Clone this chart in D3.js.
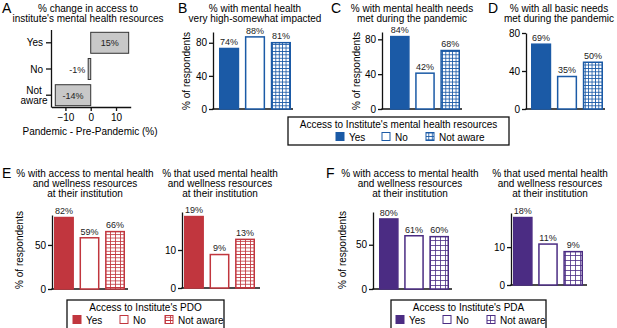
<!DOCTYPE html>
<html>
<head>
<meta charset="utf-8">
<script src="https://cdn.jsdelivr.net/npm/d3@7"></script>
<style>
  body { margin: 0; background: #fff; }
  svg { font-family: "Liberation Sans", Arial, sans-serif; }
</style>
</head>
<body>
<svg id="fig" width="617" height="328"></svg>
<script>
// data
var groups = ["Yes", "No", "Not aware"]
var changeA = [15, -1, -14]
var impactedB = [74, 88, 81]
var needsMetC = [84, 42, 68]
var basicMetD = [69, 35, 50]
var pdoAccess = [82, 59, 66]
var pdoUsed = [19, 9, 13]
var pdaAccess = [80, 61, 60]
var pdaUsed = [18, 11, 9]
var xTicksA = [-10, 0, 10]

var blue = "#1b5aa6", red = "#c1363e", purple = "#4b2c83"

var svg = d3.select("#fig")
var defs = svg.append("defs")

function gridPattern(id, color, w, h) {
    var p = defs.append("pattern").attr("id", id)
        .attr("patternUnits", "userSpaceOnUse").attr("width", w).attr("height", h)
    p.append("rect").attr("width", w).attr("height", h).attr("fill", "#fff")
    p.append("path").attr("d", "M0,0.4H" + w + "M0.4,0V" + h)
        .attr("stroke", color).attr("stroke-width", 0.9).attr("fill", "none")
}
gridPattern("gBlue", blue, 3.4, 3.4)
gridPattern("gRed", red, 5, 3.3)
gridPattern("gPurple", purple, 5, 5)

function fillFor(i, color, pat) {
    if (i == 0) return color
    else if (i == 1) return "#fff"
    else return "url(#" + pat + ")"
}

function title(lines, cx, y0) {
    lines.forEach((t, i) => {
        svg.append("text").attr("x", cx).attr("y", y0 + i * 10)
            .attr("text-anchor", "middle").attr("font-size", 10).text(t)
    })
}
function letter(t, x, y) {
    svg.append("text").attr("x", x).attr("y", y).attr("font-size", 14).text(t)
}
function yLabel(x, cy) {
    svg.append("text").attr("transform", "translate(" + x + "," + cy + ") rotate(-90)")
        .attr("text-anchor", "middle").attr("font-size", 10).text("% of respondents")
}

function barPanel(c, values, color, pat) {
    var y = d3.scaleLinear().domain([0, c.yMax]).range([c.y0, c.yTop])
    var x = d3.scaleBand().domain(groups).range([c.x0, c.x1]).paddingInner(0.22)
    var g = svg.append("g")

    var ax = g.append("g").attr("transform", "translate(" + c.axisX + ",0)")
        .call(d3.axisLeft(y).tickValues(c.ticks).tickSize(4).tickSizeOuter(0).tickPadding(2))
    ax.selectAll("text").attr("font-size", 10).attr("font-family", null)
    ax.selectAll("line,path").attr("stroke", "#111").attr("stroke-width", 1.3)

    g.append("line").attr("x1", c.axisX - 0.6).attr("x2", c.axisEnd)
        .attr("y1", y(0)).attr("y2", y(0)).attr("stroke", "#111").attr("stroke-width", 1.5)

    g.selectAll("rect.bar").data(values).enter().append("rect").attr("class", "bar")
        .attr("x", (d, i) => x(groups[i]) + 0.75)
        .attr("width", x.bandwidth() - 1.5)
        .attr("y", d => y(d) + 0.75)
        .attr("height", d => y(0) - y(d) - 0.75)
        .attr("fill", (d, i) => fillFor(i, color, pat))
        .attr("stroke", color).attr("stroke-width", 1.5)

    g.selectAll("text.val").data(values).enter().append("text").attr("class", "val")
        .attr("x", (d, i) => x(groups[i]) + x.bandwidth() / 2)
        .attr("y", d => y(d) - 2.5)
        .attr("text-anchor", "middle").attr("font-size", 9).attr("fill", "#222")
        .text(d => d + "%")
}

function legend(c, color, pat) {
    var g = svg.append("g")
    g.append("rect").attr("x", c.x).attr("y", c.y).attr("width", c.w).attr("height", c.h)
        .attr("fill", "#fff").attr("stroke", "#111").attr("stroke-width", 1.3)
    g.append("text").attr("x", c.x + c.w / 2).attr("y", c.y + 11)
        .attr("text-anchor", "middle").attr("font-size", 10).text(c.title)
    groups.forEach((t, i) => {
        g.append("rect").attr("x", c.items[i]).attr("y", c.y + 15.5).attr("width", 8).attr("height", 8)
            .attr("fill", fillFor(i, color, pat)).attr("stroke", color).attr("stroke-width", 1)
        g.append("text").attr("x", c.items[i] + 13).attr("y", c.y + 23.5)
            .attr("font-size", 10).text(t)
    })
}

// ---- panel A
letter("A", 2, 13)
title(["% change in access to", "institute's mental health resources"], 88, 12)
var xA = d3.scaleLinear().domain([-15.5, 15.8]).range([51.5, 130.7])
var yA = d3.scaleBand().domain(groups).range([31, 107]).paddingInner(0.2).paddingOuter(0.05)
var gA = svg.append("g")
var axA = gA.append("g").attr("transform", "translate(0,107)")
    .call(d3.axisBottom(xA).tickValues(xTicksA).tickSize(4).tickSizeOuter(0).tickPadding(3))
axA.selectAll("text").attr("font-size", 10).attr("font-family", null)
axA.selectAll("line,path").attr("stroke", "#111").attr("stroke-width", 1.3)
gA.append("line").attr("x1", 51.5).attr("x2", 51.5).attr("y1", 30).attr("y2", 107.6)
    .attr("stroke", "#111").attr("stroke-width", 1.3)
groups.forEach(gr => {
    gA.append("line").attr("x1", 46).attr("x2", 51.5)
        .attr("y1", yA(gr) + yA.bandwidth() / 2).attr("y2", yA(gr) + yA.bandwidth() / 2)
        .attr("stroke", "#111").attr("stroke-width", 1.3)
})
gA.append("text").attr("x", 43).attr("y", yA("Yes") + yA.bandwidth() / 2 + 3.5)
    .attr("text-anchor", "end").attr("font-size", 10).text("Yes")
gA.append("text").attr("x", 43).attr("y", yA("No") + yA.bandwidth() / 2 + 3.5)
    .attr("text-anchor", "end").attr("font-size", 10).text("No")
gA.append("text").attr("x", 34).attr("y", yA("Not aware") + yA.bandwidth() / 2 - 1.5)
    .attr("text-anchor", "middle").attr("font-size", 10).text("Not")
gA.append("text").attr("x", 34).attr("y", yA("Not aware") + yA.bandwidth() / 2 + 8.5)
    .attr("text-anchor", "middle").attr("font-size", 10).text("aware")
gA.selectAll("rect.bar").data(changeA).enter().append("rect").attr("class", "bar")
    .attr("x", d => Math.min(xA(d), xA(0)))
    .attr("width", d => Math.abs(xA(d) - xA(0)))
    .attr("y", (d, i) => yA(groups[i]))
    .attr("height", yA.bandwidth())
    .attr("fill", "#c8c8c8").attr("stroke", "#333").attr("stroke-width", 1)
gA.selectAll("text.val").data(changeA).enter().append("text").attr("class", "val")
    .attr("x", d => Math.abs(d) > 3 ? (xA(d) + xA(0)) / 2 : xA(d) - 3)
    .attr("y", (d, i) => yA(groups[i]) + yA.bandwidth() / 2 + 3.5)
    .attr("text-anchor", d => Math.abs(d) > 3 ? "middle" : "end")
    .attr("font-size", 9).attr("fill", "#222")
    .text(d => d + "%")
svg.append("text").attr("x", 90).attr("y", 135).attr("text-anchor", "middle")
    .attr("font-size", 10).text("Pandemic - Pre-Pandemic (%)")

// ---- panels B, C, D
letter("B", 178, 13)
title(["% with mental health", "very high-somewhat impacted"], 255, 12)
yLabel(190, 71)
barPanel({yMax: 93, y0: 109, yTop: 32, ticks: [0, 40, 80], x0: 219, x1: 291, axisX: 213, axisEnd: 293},
    impactedB, blue, "gBlue")

letter("C", 331, 13)
title(["% with mental health needs", "met during the pandemic"], 412, 12)
yLabel(360, 71)
barPanel({yMax: 88.4, y0: 109, yTop: 32, ticks: [0, 40, 80], x0: 390, x1: 460, axisX: 382, axisEnd: 462},
    needsMetC, blue, "gBlue")

letter("D", 488, 13)
title(["% with all basic needs", "met during the pandemic"], 559, 12)
barPanel({yMax: 80, y0: 109, yTop: 33, ticks: [0, 40, 80], x0: 531, x1: 603, axisX: 526, axisEnd: 605},
    basicMetD, blue, "gBlue")

legend({x: 288, y: 117, w: 221, h: 28, title: "Access to Institute's mental health resources",
    items: [336, 382, 426]}, blue, "gBlue")

// ---- panel E (PDO)
letter("E", 2, 178)
title(["% with access to mental health", "and wellness resources", "at their institution"], 85, 177)
yLabel(23, 250)
barPanel({yMax: 84, y0: 289, yTop: 215, ticks: [0, 50], x0: 54, x1: 125, axisX: 52, axisEnd: 128},
    pdoAccess, red, "gRed")
title(["% that used mental health", "and wellness resources", "at their institution"], 220, 177)
barPanel({yMax: 20, y0: 288, yTop: 212, ticks: [0, 10], x0: 184, x1: 255, axisX: 182, axisEnd: 260},
    pdoUsed, red, "gRed")
legend({x: 67, y: 300, w: 157, h: 32, title: "Access to Institute's PDO",
    items: [73, 120, 165]}, red, "gRed")

// ---- panel F (PDA)
letter("F", 326, 178)
title(["% with access to mental health", "and wellness resources", "at their institution"], 410, 177)
yLabel(346, 250)
barPanel({yMax: 87, y0: 289, yTop: 212, ticks: [0, 50], x0: 379, x1: 449, axisX: 373, axisEnd: 452},
    pdaAccess, purple, "gPurple")
title(["% that used mental health", "and wellness resources", "at their institution"], 550, 177)
barPanel({yMax: 19, y0: 285, yTop: 213, ticks: [0, 10], x0: 513, x1: 583, axisX: 511, axisEnd: 587},
    pdaUsed, purple, "gPurple")
legend({x: 391, y: 300, w: 155, h: 32, title: "Access to Institute's PDA",
    items: [396, 443, 487]}, purple, "gPurple")
</script>
</body>
</html>
